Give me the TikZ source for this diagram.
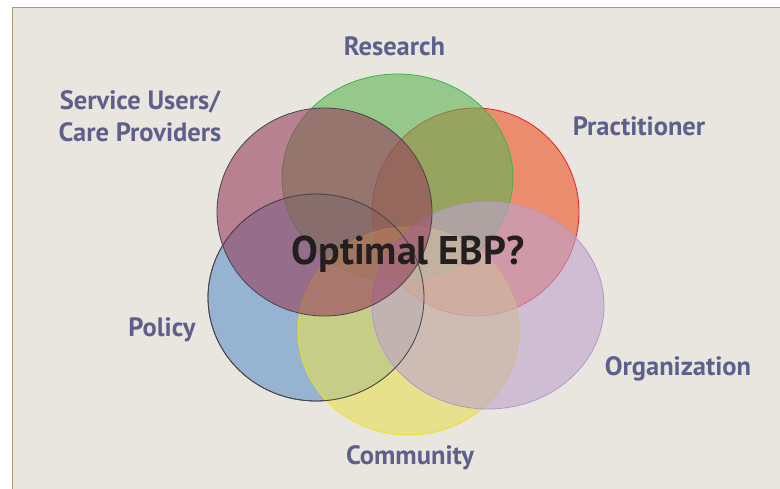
\documentclass[tikz,border=0pt]{standalone}
\usepackage{fontspec}
\setmainfont{PT Sans}
\definecolor{bg}{RGB}{233,230,223}
\definecolor{frame}{RGB}{160,152,120}
\definecolor{lbl}{RGB}{95,95,140}
\definecolor{cGreen}{RGB}{95,180,85}
\definecolor{cMauve}{RGB}{150,63,93}
\definecolor{cRed}{RGB}{238,80,35}
\definecolor{cBlue}{RGB}{95,147,201}
\definecolor{cYellow}{RGB}{231,223,85}
\definecolor{cPurple}{RGB}{190,163,205}
\definecolor{sGreen}{RGB}{60,180,75}
\definecolor{sRed}{RGB}{230,30,40}
\definecolor{sYellow}{RGB}{235,225,30}
\definecolor{sPurple}{RGB}{180,150,200}
\definecolor{sDark}{RGB}{70,70,75}
\tikzset{
  venn/.style={fill opacity=0.6, line width=0.8pt},
  lab/.style={text=lbl, font=\fontsize{26.5}{32}\selectfont\bfseries, align=center, inner sep=0pt},
  title/.style={text={rgb,255:red,35;green,31;blue,32}, font=\fontsize{40}{46}\selectfont\bfseries, inner sep=0pt}
}
\begin{document}
\begin{tikzpicture}[x=1pt,y=-1pt]
\useasboundingbox (0,0) rectangle (780,489);
\fill[white] (0,0) rectangle (780,489);
\fill[bg] (12,7) rectangle (780,489);
\draw[frame, line width=0.8pt] (12,489) -- (12,7) -- (780,7);
% ellipses
\filldraw[venn, fill=cBlue, draw=sDark] (316,297.5) ellipse [x radius=108, y radius=103.5];
\filldraw[venn, fill=cRed, draw=sRed] (475.5,212) ellipse [x radius=103.5, y radius=104];
\filldraw[venn, fill=cGreen, draw=sGreen] (397.5,177.5) ellipse [x radius=115.5, y radius=103.5];
\filldraw[venn, fill=cYellow, draw=sYellow] (408.5,331) ellipse [x radius=110.5, y radius=104];
\filldraw[venn, fill=cPurple, draw=sPurple] (488,305.5) ellipse [x radius=116, y radius=103.5];
\filldraw[venn, fill=cMauve, draw=sDark] (324.5,212) ellipse [x radius=107.5, y radius=104];
\draw[sDark, line width=0.8pt] (316,297.5) ellipse [x radius=108, y radius=103.5];
% labels
\node[lab, anchor=base] (research) at (394.5,56) {Research};
\node[lab] (service) at (140,116) {Service Users/\\Care Providers};
\node[lab, anchor=base] (pract) at (639,136) {Practitioner};
\node[lab, anchor=base] (policy) at (162,337) {Policy};
\node[lab, anchor=base] (org) at (678,375) {Organization};
\node[lab, anchor=base] (comm) at (410,464) {Community};
\node[title, anchor=base] (ebp) at (408,265) {Optimal EBP?};
\end{tikzpicture}
\end{document}
